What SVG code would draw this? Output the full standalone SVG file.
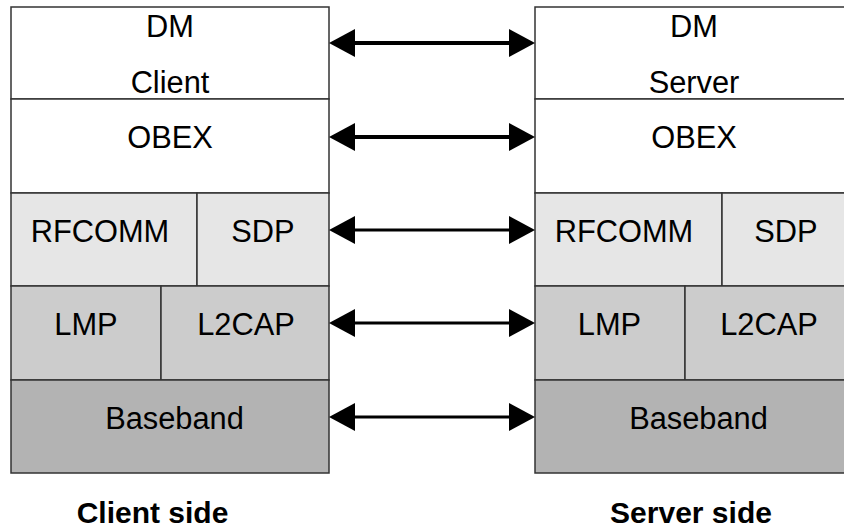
<svg xmlns="http://www.w3.org/2000/svg" width="844" height="529" viewBox="0 0 844 529">
<style>
.box{stroke:#333333;stroke-width:1.5}
.w{fill:#ffffff}
.l1{fill:#e6e6e6}
.l2{fill:#cccccc}
.l3{fill:#b3b3b3}
text{font-family:"Liberation Sans",Arial,sans-serif;font-size:30.8px;fill:#000000;text-anchor:middle}
.b{font-weight:bold;font-size:30px}
.conn{stroke:#000000;fill:none}
</style>
<defs>
<marker id="ah" markerUnits="userSpaceOnUse" markerWidth="26" markerHeight="28" refX="6" refY="14" orient="auto-start-reverse">
<path d="M0,0 L26,14 L0,28 Z" fill="#000000"/>
</marker>
</defs>
<rect width="844" height="529" fill="#ffffff"/>
<g id="client-dm"><rect class="box w" x="11" y="7" width="318" height="92"/><text x="170" y="37">DM</text><text x="170" y="93">Client</text></g>
<g id="client-obex"><rect class="box w" x="11" y="99" width="318" height="94"/><text x="170" y="148">OBEX</text></g>
<g id="client-rfcomm"><rect class="box l1" x="11" y="193" width="186" height="93"/><text x="100" y="242">RFCOMM</text></g>
<g id="client-sdp"><rect class="box l1" x="197" y="193" width="132" height="93"/><text x="263" y="242">SDP</text></g>
<g id="client-lmp"><rect class="box l2" x="11" y="286" width="150" height="94"/><text x="86" y="335">LMP</text></g>
<g id="client-l2cap"><rect class="box l2" x="161" y="286" width="168" height="94"/><text x="246" y="335">L2CAP</text></g>
<g id="client-baseband"><rect class="box l3" x="11" y="380" width="318" height="93"/><text x="174.5" y="429">Baseband</text></g>
<g id="server-dm"><rect class="box w" x="535" y="7" width="318" height="92"/><text x="694" y="37">DM</text><text x="694" y="93">Server</text></g>
<g id="server-obex"><rect class="box w" x="535" y="99" width="318" height="94"/><text x="694" y="148">OBEX</text></g>
<g id="server-rfcomm"><rect class="box l1" x="535" y="193" width="187" height="93"/><text x="624" y="242">RFCOMM</text></g>
<g id="server-sdp"><rect class="box l1" x="722" y="193" width="131" height="93"/><text x="786" y="242">SDP</text></g>
<g id="server-lmp"><rect class="box l2" x="535" y="286" width="150" height="94"/><text x="609.5" y="335">LMP</text></g>
<g id="server-l2cap"><rect class="box l2" x="685" y="286" width="168" height="94"/><text x="769" y="335">L2CAP</text></g>
<g id="server-baseband"><rect class="box l3" x="535" y="380" width="318" height="93"/><text x="698.5" y="429">Baseband</text></g>
<g id="connectors">
<line class="conn" x1="349" y1="43" x2="515" y2="43" stroke-width="4" marker-start="url(#ah)" marker-end="url(#ah)"/>
<line class="conn" x1="349" y1="137" x2="515" y2="137" stroke-width="4" marker-start="url(#ah)" marker-end="url(#ah)"/>
<line class="conn" x1="349" y1="230" x2="515" y2="230" stroke-width="3" marker-start="url(#ah)" marker-end="url(#ah)"/>
<line class="conn" x1="349" y1="323" x2="515" y2="323" stroke-width="3" marker-start="url(#ah)" marker-end="url(#ah)"/>
<line class="conn" x1="349" y1="417" x2="515" y2="417" stroke-width="3" marker-start="url(#ah)" marker-end="url(#ah)"/>
</g>
<g id="labels">
<text class="b" x="152.5" y="523">Client side</text>
<text class="b" x="691" y="523">Server side</text>
</g>
</svg>
